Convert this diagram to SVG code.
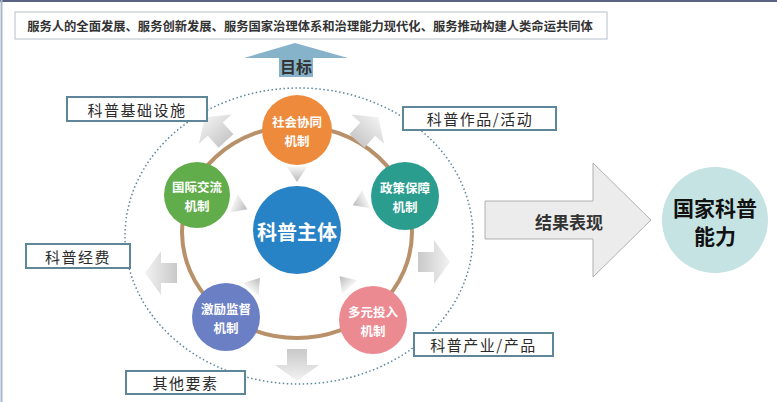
<svg xmlns="http://www.w3.org/2000/svg" width="777" height="402" viewBox="0 0 777 402">
<style>
.cjk{font-family:"Noto Sans CJK SC","Noto Sans",sans-serif}
.lbl{fill:#fff;stroke:#5e8699;stroke-width:2}
.lt{font-size:15px;fill:#2a2a2a;text-anchor:middle;dominant-baseline:central;letter-spacing:1.5px}
.ct{font-size:12.5px;fill:#fff;font-weight:bold;text-anchor:middle;dominant-baseline:central}
.ga{fill:url(#gg)}
.gt{fill:url(#gt)}
</style>
<defs>
<linearGradient id="gg" x1="0" y1="0" x2="1" y2="0">
<stop offset="0" stop-color="#c9c9c9"/><stop offset="1" stop-color="#f2f2f2"/>
</linearGradient>
<linearGradient id="gt" x1="0" y1="0" x2="1" y2="0">
<stop offset="0" stop-color="#f4f4f4"/><stop offset="1" stop-color="#b9b9b9"/>
</linearGradient>
<path id="bigarr" d="M0,-10 L16,-10 L16,-22 L32,0 L16,22 L16,10 L0,10 Z"/>
<path id="tri" d="M-7,-10 L8,0 L-7,10 Z"/>
</defs>
<rect width="777" height="402" fill="#fff"/>
<line x1="0" y1="1" x2="777" y2="1" stroke="#5b6385" stroke-width="2"/>
<line x1="1.5" y1="0" x2="1.5" y2="402" stroke="#a8b8cc" stroke-width="2"/>

<g id="goal-box">
<rect x="15" y="12" width="592" height="27" fill="#fff" stroke="#b4c0cc" stroke-width="1"/>
<text x="310" y="26" class="cjk" font-size="12.3" font-weight="bold" fill="#333" text-anchor="middle" dominant-baseline="central">服务人的全面发展、服务创新发展、服务国家治理体系和治理能力现代化、服务推动构建人类命运共同体</text>
</g>

<g id="connectors">
<ellipse cx="299" cy="236" rx="174" ry="148" fill="none" stroke="#5a86a0" stroke-width="1.5" stroke-dasharray="1.5 2.5"/>
<path d="M313,77 L279,77 L279,58 L244,58 L295,43 L348,58 L313,58 Z" fill="#86b3ca"/>
<ellipse cx="297" cy="232" rx="115" ry="106" fill="none" stroke="#b8906a" stroke-width="4"/>
<use href="#bigarr" class="ga" transform="translate(226,141) rotate(-132)"/>
<use href="#bigarr" class="ga" transform="translate(357,141) rotate(-48)"/>
<use href="#bigarr" class="ga" transform="translate(418,262)"/>
<use href="#bigarr" class="ga" transform="translate(297,349) rotate(90)"/>
<use href="#bigarr" class="ga" transform="translate(177,273) rotate(180)"/>
<use href="#tri" class="gt" transform="translate(297,174) rotate(90)"/>
<use href="#tri" class="gt" transform="translate(240,206) rotate(23)"/>
<use href="#tri" class="gt" transform="translate(360,202) rotate(156)"/>
<use href="#tri" class="gt" transform="translate(255,284) rotate(-52)"/>
<use href="#tri" class="gt" transform="translate(345,282) rotate(-133)"/>
<path d="M485,201 L593,201 L593,163 L651,220 L593,277 L593,239 L485,239 Z" fill="#ececec" stroke="#b0b0b0" stroke-width="1"/>
<text x="569" y="221" class="cjk" font-size="17" font-weight="bold" fill="#333" text-anchor="middle" dominant-baseline="central">结果表现</text>
<text x="296" y="66" class="cjk" font-size="16" font-weight="bold" fill="#333" text-anchor="middle" dominant-baseline="central">目标</text>
</g>

<g id="node-main">
<circle cx="297" cy="230" r="44" fill="#2782c6"/>
<text x="297" y="231" class="cjk" font-size="20" font-weight="bold" fill="#fff" text-anchor="middle" dominant-baseline="central">科普主体</text>
</g>
<g id="node-social">
<circle cx="297" cy="130" r="35" fill="#ee8a3c"/>
<text x="297" y="121.5" class="cjk ct">社会协同</text>
<text x="297" y="140" class="cjk ct">机制</text>
</g>
<g id="node-intl">
<circle cx="197" cy="195" r="33" fill="#62ad4b"/>
<text x="197" y="186.5" class="cjk ct">国际交流</text>
<text x="197" y="205" class="cjk ct">机制</text>
</g>
<g id="node-policy">
<circle cx="405" cy="196" r="34" fill="#2a9d8f"/>
<text x="405" y="187.5" class="cjk ct">政策保障</text>
<text x="405" y="206" class="cjk ct">机制</text>
</g>
<g id="node-incentive">
<circle cx="226" cy="317" r="34" fill="#6b7fc4"/>
<text x="226" y="308.5" class="cjk ct">激励监督</text>
<text x="226" y="327" class="cjk ct">机制</text>
</g>
<g id="node-invest">
<circle cx="373" cy="320" r="34" fill="#ec8a92"/>
<text x="373" y="311.5" class="cjk ct">多元投入</text>
<text x="373" y="330" class="cjk ct">机制</text>
</g>

<g id="label-infra">
<rect x="67" y="97" width="140" height="24" class="lbl"/>
<text x="137" y="109" class="cjk lt">科普基础设施</text>
</g>
<g id="label-works">
<rect x="403" y="107" width="153" height="23" class="lbl"/>
<text x="480" y="118.5" class="cjk lt">科普作品/活动</text>
</g>
<g id="label-funds">
<rect x="26" y="244" width="104" height="24" class="lbl"/>
<text x="78" y="256" class="cjk lt">科普经费</text>
</g>
<g id="label-other">
<rect x="126" y="371" width="119" height="23" class="lbl"/>
<text x="185.5" y="382.5" class="cjk lt">其他要素</text>
</g>
<g id="label-industry">
<rect x="414" y="333" width="139" height="23" class="lbl"/>
<text x="483.5" y="344.5" class="cjk lt">科普产业/产品</text>
</g>

<g id="node-capacity">
<circle cx="715" cy="220" r="53" fill="#c5e3e3"/>
<text x="715" y="207" class="cjk" font-size="21" font-weight="bold" fill="#111" text-anchor="middle" dominant-baseline="central">国家科普</text>
<text x="715" y="235" class="cjk" font-size="21" font-weight="bold" fill="#111" text-anchor="middle" dominant-baseline="central">能力</text>
</g>
</svg>
